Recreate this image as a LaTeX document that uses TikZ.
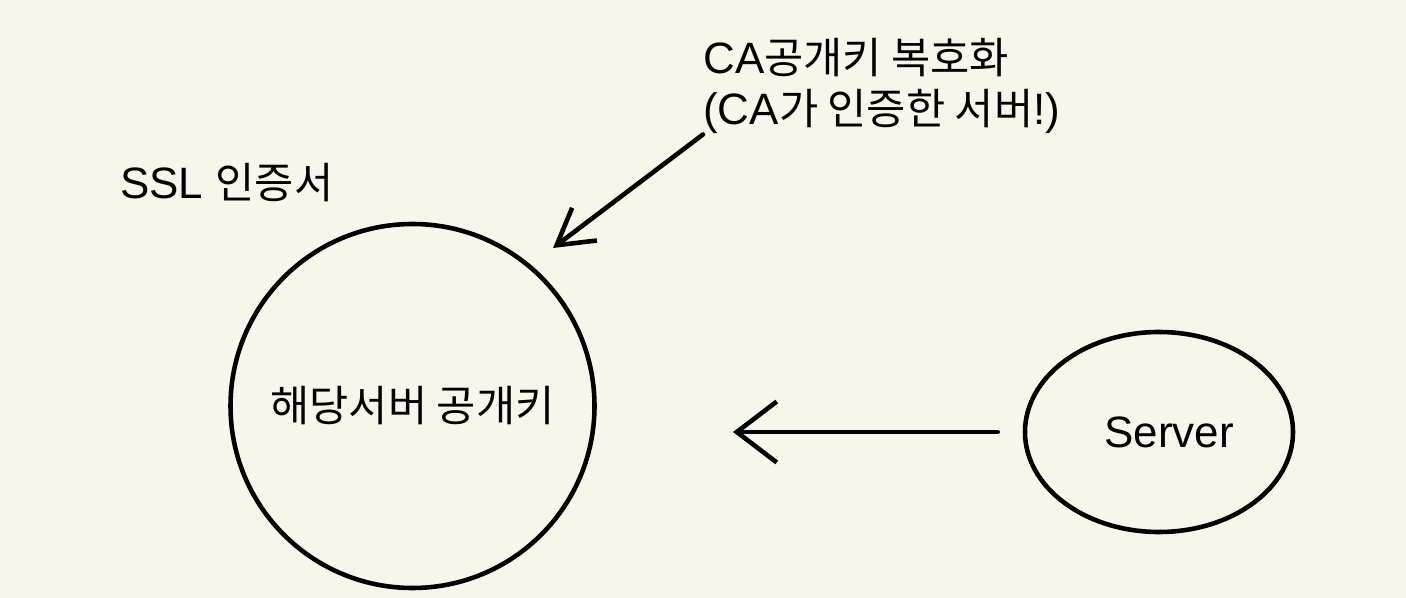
\documentclass[tikz,border=0pt]{standalone}
\usepackage{fontspec}
\setmainfont{Liberation Sans}
\newfontfamily\kr{Noto Sans CJK KR}[Scale=0.97]
\usetikzlibrary{arrows.meta,shapes.geometric}
\definecolor{paper}{HTML}{F8F6EC}

\begin{document}
\begin{tikzpicture}[font=\fontsize{25}{29.5}\selectfont,
    pen/.style={line width=2.6pt, line cap=round, line join=round},
    note/.style={inner sep=0pt, align=left, anchor=west}]
  \fill[paper] (0,0) rectangle (28.12,-11.96);
  \useasboundingbox (0,0) rectangle (28.12,-11.96);
  % certificate and server
  \node[pen, draw, circle, minimum size=7.28cm] (cert) at (8.25,-8.12) {\kr 해당서버 공개키};
  \node[pen, draw, ellipse, minimum width=5.36cm, minimum height=4cm] (srv) at (23.18,-8.64) {\hspace{0.4cm}Server};
  % labels
  \node[note] (ssl) at (2.4,-3.66) {SSL {\kr 인증서}};
  \node[note] (ca) at (14.06,-1.72) {CA{\kr 공개키 복호화}\\({CA}{\kr 가 인증한 서버}!)};
  % arrows
  \coordinate (tipca) at (11.06,-4.96);
  \coordinate (tipsrv) at (14.66,-8.64);
  \draw[pen, -{Straight Barb[length=0.7cm, width=0.82cm]}] (ca.south west) -- (tipca);
  \draw[pen, -{Straight Barb[length=0.8cm, width=1.22cm]}, shorten <=0.5cm] (srv.west) -- (tipsrv);
\end{tikzpicture}
\end{document}
